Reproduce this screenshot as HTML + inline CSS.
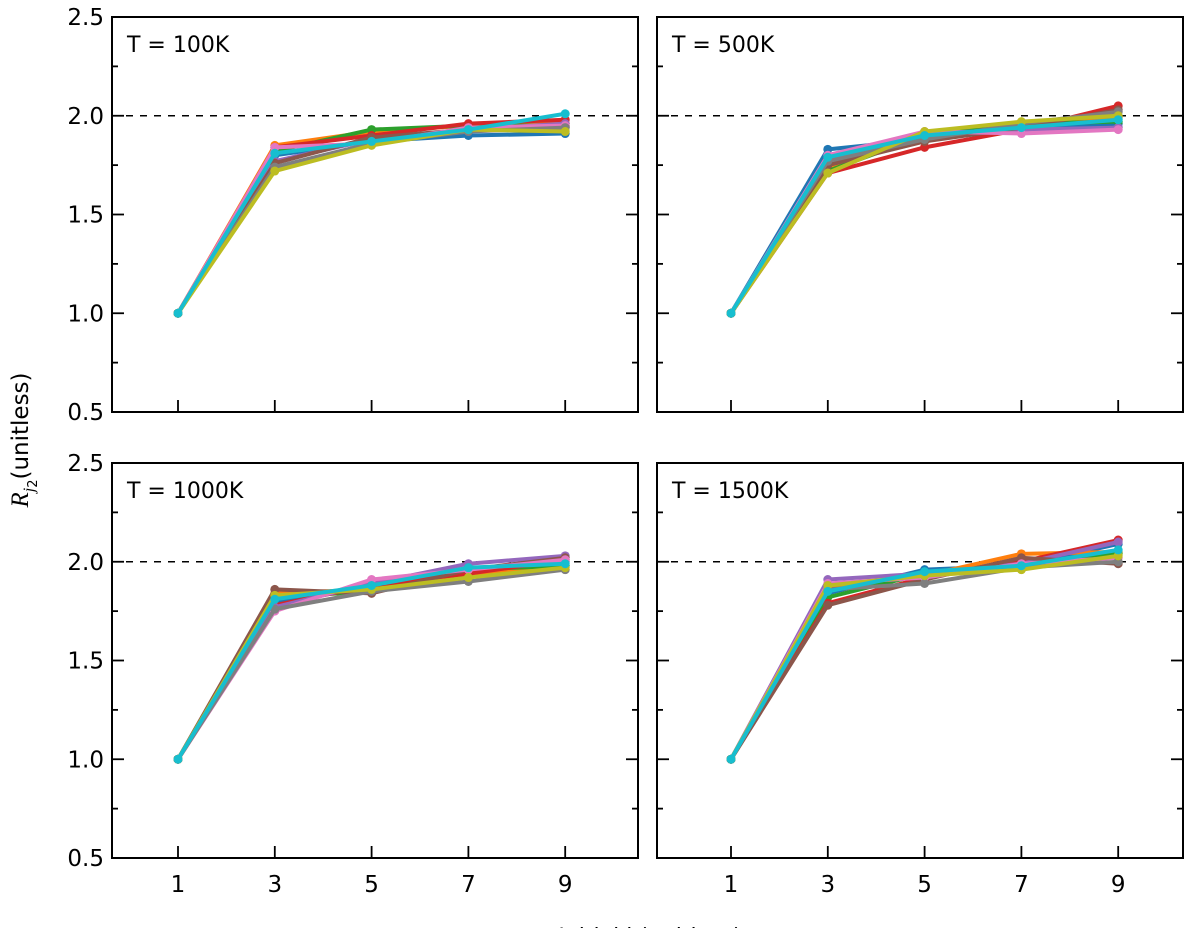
<!DOCTYPE html>
<html><head><meta charset="utf-8"><style>
html,body{margin:0;padding:0;background:#fff;}
svg text{font-family:"DejaVu Sans","Liberation Sans",sans-serif;}
</style></head><body>
<svg id="chart" width="1200" height="928" xmlns="http://www.w3.org/2000/svg"></svg>
<script>
const xCats = [1,3,5,7,9];
const yTicks = [0.5,1.0,1.5,2.0,2.5];
const yTickLabels = ["0.5","1.0","1.5","2.0","2.5"];
const panelTitles = ["T = 100K","T = 500K","T = 1000K","T = 1500K"];
const colors = ["#1f77b4","#ff7f0e","#2ca02c","#d62728","#9467bd","#8c564b","#e377c2","#7f7f7f","#bcbd22","#17becf"];
const p100 = [
 [1,1.80,1.87,1.90,1.91],[1,1.85,1.92,1.95,1.96],[1,1.82,1.93,1.95,1.95],[1,1.84,1.90,1.96,1.98],
 [1,1.77,1.88,1.93,1.96],[1,1.76,1.89,1.93,1.94],[1,1.84,1.86,1.94,1.95],[1,1.74,1.86,1.92,1.94],
 [1,1.72,1.85,1.93,1.92],[1,1.81,1.87,1.93,2.01]];
const p500 = [
 [1,1.83,1.88,1.93,1.96],[1,1.74,1.89,1.95,1.99],[1,1.72,1.90,1.96,1.97],[1,1.71,1.84,1.93,2.05],
 [1,1.78,1.91,1.93,1.94],[1,1.75,1.87,1.94,2.03],[1,1.80,1.92,1.91,1.93],[1,1.77,1.88,1.96,2.02],
 [1,1.71,1.92,1.97,2.00],[1,1.79,1.90,1.94,1.98]];
const p1000 = [
 [1,1.80,1.87,1.95,2.00],[1,1.84,1.86,1.93,1.98],[1,1.82,1.85,1.96,1.98],[1,1.78,1.88,1.94,2.01],
 [1,1.77,1.89,1.99,2.03],[1,1.86,1.84,1.96,2.02],[1,1.75,1.91,1.96,2.01],[1,1.76,1.85,1.90,1.96],
 [1,1.83,1.86,1.92,1.97],[1,1.81,1.88,1.97,1.99]];
const p1500 = [
 [1,1.84,1.96,1.98,2.09],[1,1.87,1.93,2.04,2.05],[1,1.82,1.94,1.98,2.04],[1,1.79,1.92,2.00,2.11],
 [1,1.91,1.94,1.99,2.10],[1,1.78,1.91,2.02,1.99],[1,1.89,1.92,1.99,2.02],[1,1.86,1.89,1.97,2.00],
 [1,1.88,1.93,1.96,2.03],[1,1.85,1.95,1.98,2.06]];
const panelData = [p100,p500,p1000,p1500];

const NS="http://www.w3.org/2000/svg";
const svg=document.getElementById('chart');
function mk(tag,attrs,parent){const e=document.createElementNS(NS,tag);for(const k in attrs)e.setAttribute(k,attrs[k]);(parent||svg).appendChild(e);return e;}
const panels=[{l:112,r:638,t:17,b:412,x1:178},{l:657,r:1183,t:17,b:412,x1:731},{l:112,r:638,t:463,b:858,x1:178},{l:657,r:1183,t:463,b:858,x1:731}];
panels.forEach((p,i)=>{
  const g=mk('g',{});
  
  
  const yMin=0.5,yMax=2.5;
  const X=v=>p.x1+(v-1)*48.4;
  const Y=v=>p.b-(v-yMin)/(yMax-yMin)*(p.b-p.t);
  const ref=mk('line',{x1:p.l,x2:p.r,y1:Y(2),y2:Y(2),stroke:'#000','stroke-width':1.6,'stroke-dasharray':'7,7'},g);
  
  
  panelData[i].forEach((s,si)=>{
    const sg=mk('g',{},g);
    
    
    mk('polyline',{points:s.map((v,k)=>X(xCats[k])+','+Y(v)).join(' '),fill:'none',stroke:colors[si],'stroke-width':4,'stroke-linejoin':'round'},sg);
    s.forEach((v,k)=>{mk('circle',{cx:X(xCats[k]),cy:Y(v),r:4.5,fill:colors[si]},sg);});
  });
  const fr=mk('rect',{x:p.l,y:p.t,width:p.r-p.l,height:p.b-p.t,fill:'none',stroke:'#000','stroke-width':2},g);
  
  
  xCats.forEach(c=>{
    mk('line',{x1:X(c),x2:X(c),y1:p.b,y2:p.b-12,stroke:'#000','stroke-width':1.8},g);
    if(i>=2){const t=mk('text',{x:X(c),y:p.b+34,'text-anchor':'middle','font-size':23},g);t.textContent=c;
      }
  });
  for(let v=0.5;v<=2.5001;v+=0.25){
    const maj=Math.abs(v*2-Math.round(v*2))<1e-6;const L=maj?12:6;
    mk('line',{x1:p.l,x2:p.l+L,y1:Y(v),y2:Y(v),stroke:'#000','stroke-width':1.8},g);
    mk('line',{x1:p.r,x2:p.r-L,y1:Y(v),y2:Y(v),stroke:'#000','stroke-width':1.8},g);
  }
  if(i%2==0){yTicks.forEach((v,k)=>{const t=mk('text',{x:p.l-8,y:Y(v)+8,'text-anchor':'end','font-size':23},g);t.textContent=yTickLabels[k];
    });}
  const tt=mk('text',{x:p.l+15,y:p.t+35,'font-size':22},g);tt.textContent=panelTitles[i];
  
});
const yl=mk('text',{x:0,y:0,transform:'translate(28,440) rotate(-90)','text-anchor':'middle','font-size':23});


yl.innerHTML='<tspan font-style="italic" font-family="Liberation Serif" font-size="25">R</tspan><tspan font-style="italic" font-size="16" dy="6" font-family="Liberation Serif">j</tspan><tspan font-size="13" dy="3">2</tspan><tspan dy="-9">(unitless)</tspan>';
const xl=mk('text',{x:650,y:944,'text-anchor':'middle','font-size':22});


xl.textContent='Initial j (unitless)';
</script>
</body></html>
